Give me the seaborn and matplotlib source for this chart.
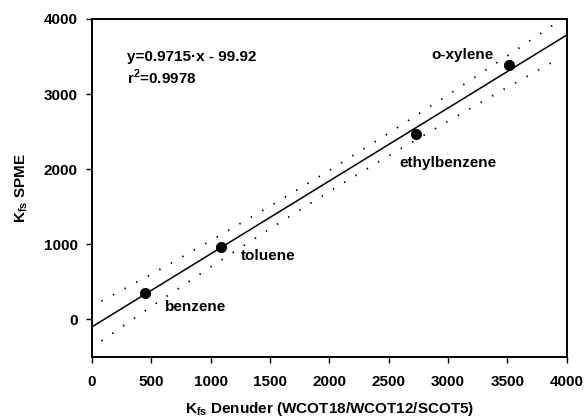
import pandas as pd
import matplotlib
matplotlib.use("Agg")
import matplotlib.pyplot as plt
import seaborn as sns

# ---------- DATA ----------
compounds = ['benzene', 'toluene', 'ethylbenzene', 'o-xylene']
kfs_denuder = [446, 1086, 2728, 3512]
kfs_spme = [347, 960, 2467, 3387]

# regression line (ends of the plotted fit)
fit_x = [0, 4000]
fit_y = [-99.92, 3786.08]

# prediction band
band_x = [80, 500, 1000, 1500, 2000, 2500, 3000, 3500, 3950]
band_upper = [243, 601, 1047, 1507, 1983, 2479, 2989, 3510, 3987]
band_lower = [-287, 171, 697, 1207, 1703, 2179, 2639, 3090, 3487]

x_ticks = [0, 500, 1000, 1500, 2000, 2500, 3000, 3500, 4000]
y_ticks = [0, 1000, 2000, 3000, 4000]

# label offsets in data units relative to the point
label_pos = {
    'benzene': (170, -175),
    'toluene': (170, -120),
    'ethylbenzene': (-135, -390),
    'o-xylene': (-650, 135),
}

# ---------- STYLE ----------
sns.set_style("ticks")
plt.rcParams['font.family'] = ['Liberation Sans', 'DejaVu Sans']
plt.rcParams['font.weight'] = 'bold'
plt.rcParams['text.color'] = 'black'
plt.rcParams['axes.labelcolor'] = 'black'
plt.rcParams['xtick.color'] = 'black'
plt.rcParams['ytick.color'] = 'black'
plt.rcParams['mathtext.fontset'] = 'custom'
plt.rcParams['mathtext.rm'] = 'Liberation Sans'
plt.rcParams['mathtext.bf'] = 'Liberation Sans:bold'

df = pd.DataFrame({'compound': compounds, 'x': kfs_denuder, 'y': kfs_spme})
fit = pd.DataFrame({'x': fit_x, 'y': fit_y})
band = pd.DataFrame({'x': band_x, 'upper': band_upper, 'lower': band_lower})

fig = plt.figure(figsize=(5.85, 4.2), dpi=100)
ax = fig.add_axes([0.157, 0.15, 0.812, 0.805])

sns.lineplot(data=fit, x='x', y='y', ax=ax, color='black', lw=1.1)
sns.lineplot(data=band, x='x', y='upper', ax=ax, color='black', lw=1.3,
             linestyle=(0, (0.8, 6.5)))
sns.lineplot(data=band, x='x', y='lower', ax=ax, color='black', lw=1.3,
             linestyle=(0, (0.8, 6.5)))
sns.scatterplot(data=df, x='x', y='y', ax=ax, color='black', s=55,
                edgecolor='black', zorder=5)

fs = 11
for name, xv, yv in zip(compounds, kfs_denuder, kfs_spme):
    dx, dy = label_pos[name]
    ax.text(xv + dx, yv + dy, name, fontsize=fs, fontweight='bold',
            va='center', ha='left')

ax.text(300, 3490, 'y=0.9715·x - 99.92', fontsize=fs, fontweight='bold',
        va='center')
ax.text(300, 3220, r'r$^{\mathbf{2}}$=0.9978', fontsize=fs, fontweight='bold',
        va='center')

ax.set_xlim(0, 4000)
ax.set_ylim(-500, 4000)
ax.set_xticks(x_ticks)
ax.set_yticks(y_ticks)
ax.tick_params(axis='both', labelsize=fs, width=1, length=4, color='black')
for lab in ax.get_xticklabels() + ax.get_yticklabels():
    lab.set_fontweight('bold')
ax.tick_params(axis='x', pad=9)
ax.tick_params(axis='y', pad=6)

for sp in ax.spines.values():
    sp.set_visible(True)
    sp.set_linewidth(1.4)
    sp.set_color('black')

ax.set_xlabel(r'K$_{\mathbf{fs}}$ Denuder (WCOT18/WCOT12/SCOT5)',
              fontsize=fs, fontweight='bold', labelpad=8)
ax.set_ylabel(r'K$_{\mathbf{fs}}$ SPME', fontsize=fs, fontweight='bold',
              labelpad=10)

fig.savefig('out.png', dpi=100)
plt.close(fig)
